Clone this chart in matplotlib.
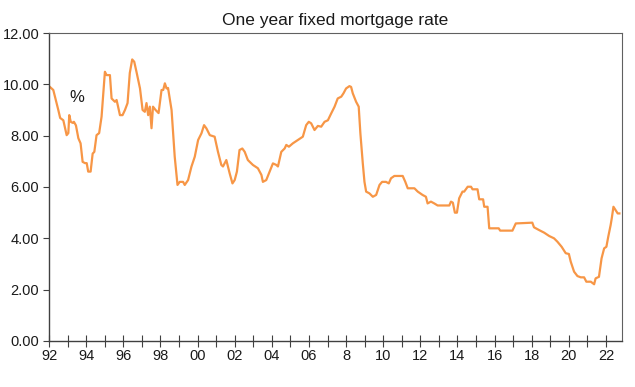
import matplotlib
matplotlib.use("Agg")
import matplotlib.pyplot as plt
from matplotlib.ticker import MultipleLocator, FixedLocator, FixedFormatter

plt.rcParams['font.family'] = ['Liberation Sans', 'DejaVu Sans']

# decimal year, one year fixed mortgage rate (%)
years = [
    1992.0, 1992.23, 1992.32, 1992.5, 1992.6, 1992.77, 1992.86, 1992.95, 1993.04, 1993.09,
    1993.17, 1993.27, 1993.34, 1993.45, 1993.58, 1993.7, 1993.81, 1993.94, 1994.03, 1994.11,
    1994.24, 1994.35, 1994.44, 1994.56, 1994.7, 1994.83, 1995.01, 1995.1, 1995.28, 1995.37,
    1995.55, 1995.64, 1995.82, 1995.96, 1996.09, 1996.23, 1996.35, 1996.48, 1996.59, 1996.71,
    1996.9, 1997.04, 1997.16, 1997.25, 1997.34, 1997.43, 1997.52, 1997.6, 1997.74, 1997.9,
    1998.06, 1998.15, 1998.24, 1998.33, 1998.41, 1998.6, 1998.77, 1998.92, 1999.04, 1999.22,
    1999.31, 1999.49, 1999.67, 1999.85, 2000.03, 2000.21, 2000.35, 2000.48, 2000.66, 2000.92,
    2001.1, 2001.28, 2001.37, 2001.55, 2001.73, 2001.88, 2002.0, 2002.12, 2002.26, 2002.41,
    2002.54, 2002.71, 2002.98, 2003.25, 2003.44, 2003.52, 2003.7, 2003.88, 2004.06, 2004.24,
    2004.33, 2004.51, 2004.69, 2004.78, 2004.92, 2005.13, 2005.4, 2005.67, 2005.85, 2005.99,
    2006.12, 2006.3, 2006.48, 2006.66, 2006.84, 2007.02, 2007.2, 2007.38, 2007.55, 2007.74,
    2007.86, 2008.0, 2008.18, 2008.27, 2008.36, 2008.54, 2008.68, 2008.77, 2008.9, 2008.99,
    2009.08, 2009.26, 2009.44, 2009.62, 2009.8, 2009.94, 2010.15, 2010.3, 2010.42, 2010.6,
    2011.05, 2011.19, 2011.32, 2011.68, 2011.86, 2012.12, 2012.3, 2012.39, 2012.57, 2012.75,
    2012.93, 2013.56, 2013.65, 2013.75, 2013.86, 2013.97, 2014.09, 2014.27, 2014.36, 2014.55,
    2014.73, 2014.81, 2015.08, 2015.17, 2015.38, 2015.44, 2015.62, 2015.71, 2016.22, 2016.3,
    2016.96, 2017.14, 2018.03, 2018.12, 2018.22, 2018.4, 2018.67, 2018.94, 2019.2, 2019.38,
    2019.61, 2019.83, 2020.0, 2020.1, 2020.28, 2020.46, 2020.64, 2020.82, 2020.94, 2021.18,
    2021.36, 2021.44, 2021.62, 2021.76, 2021.9, 2022.02, 2022.12, 2022.25, 2022.31, 2022.4,
    2022.49, 2022.63, 2022.72,
]
rates = [
    9.93, 9.78, 9.52, 9.0, 8.69, 8.6, 8.3, 8.02, 8.1, 8.8,
    8.54, 8.5, 8.54, 8.4, 7.9, 7.7, 6.98, 6.93, 6.93, 6.6,
    6.6, 7.3, 7.37, 8.02, 8.1, 8.74, 10.49, 10.36, 10.36, 9.45,
    9.32, 9.39, 8.8, 8.8, 9.0, 9.27, 10.44, 10.97, 10.88, 10.49,
    9.84, 9.0, 8.93, 9.27, 8.8, 9.13, 8.29, 9.13, 9.0, 8.88,
    9.78, 9.78, 10.04, 9.84, 9.86, 9.0, 7.18, 6.08, 6.2, 6.2,
    6.08, 6.27, 6.79, 7.18, 7.83, 8.09, 8.41, 8.28, 8.02, 7.96,
    7.37, 6.86, 6.8, 7.05, 6.53, 6.14, 6.27, 6.6, 7.44, 7.5,
    7.37, 7.05, 6.86, 6.73, 6.47, 6.2, 6.27, 6.6, 6.92, 6.86,
    6.8, 7.37, 7.5, 7.64, 7.57, 7.7, 7.83, 7.96, 8.41, 8.54,
    8.48, 8.22, 8.38, 8.35, 8.54, 8.6, 8.87, 9.13, 9.45, 9.52,
    9.65, 9.84, 9.93, 9.9, 9.65, 9.32, 9.13, 8.09, 6.92, 6.2,
    5.82, 5.75, 5.62, 5.69, 6.08, 6.2, 6.2, 6.14, 6.34, 6.43,
    6.43, 6.2, 5.95, 5.95, 5.82, 5.69, 5.62, 5.36, 5.43, 5.36,
    5.28, 5.28, 5.43, 5.39, 5.0, 5.0, 5.56, 5.82, 5.82, 6.01,
    6.01, 5.91, 5.91, 5.52, 5.52, 5.23, 5.23, 4.39, 4.39, 4.3,
    4.3, 4.58, 4.61, 4.43, 4.39, 4.32, 4.22, 4.09, 4.0, 3.87,
    3.67, 3.42, 3.39, 3.09, 2.7, 2.53, 2.48, 2.48, 2.31, 2.31,
    2.21, 2.44, 2.5, 3.22, 3.61, 3.67, 4.06, 4.52, 4.78, 5.23,
    5.13, 4.97, 4.97,
]

tick_years = [1992, 1994, 1996, 1998, 2000, 2002, 2004, 2006, 2008, 2010,
              2012, 2014, 2016, 2018, 2020, 2022]
tick_labels = ["92", "94", "96", "98", "00", "02", "04", "06", "8", "10",
               "12", "14", "16", "18", "20", "22"]

fig = plt.figure(figsize=(6.35, 3.87), dpi=100)
ax = fig.add_axes([0.0772, 0.1189, 0.9023, 0.7958])

ax.plot(years, rates, color="#F79646", linewidth=1.6)

ax.set_xlim(1992, 2022.86)
ax.set_ylim(0, 12)
ax.yaxis.set_major_locator(MultipleLocator(2))
ax.yaxis.set_major_formatter(plt.FuncFormatter(lambda v, p: f"{v:.2f}"))

ax.xaxis.set_major_locator(FixedLocator(tick_years))
ax.xaxis.set_major_formatter(FixedFormatter(tick_labels))
ax.xaxis.set_minor_locator(MultipleLocator(1))

ax.tick_params(axis="x", which="both", direction="inout", length=8, width=0.8,
               color="#404040", labelsize=10.5, labelcolor="#1a1a1a", pad=2)
ax.tick_params(axis="y", direction="out", length=4, width=0.8,
               color="#404040", labelsize=10.5, labelcolor="#1a1a1a", pad=3)

for side in ["left", "bottom"]:
    ax.spines[side].set_color("#404040")
    ax.spines[side].set_linewidth(1.0)
for side in ["top", "right"]:
    ax.spines[side].set_color("#606060")
    ax.spines[side].set_linewidth(0.8)

ax.text(1993.5, 9.5, "%", fontsize=12, color="#1a1a1a", ha="center", va="center")

ax.set_title("One year fixed mortgage rate", fontsize=12.5, color="#1a1a1a", pad=6)

fig.savefig("out.png", dpi=100)
